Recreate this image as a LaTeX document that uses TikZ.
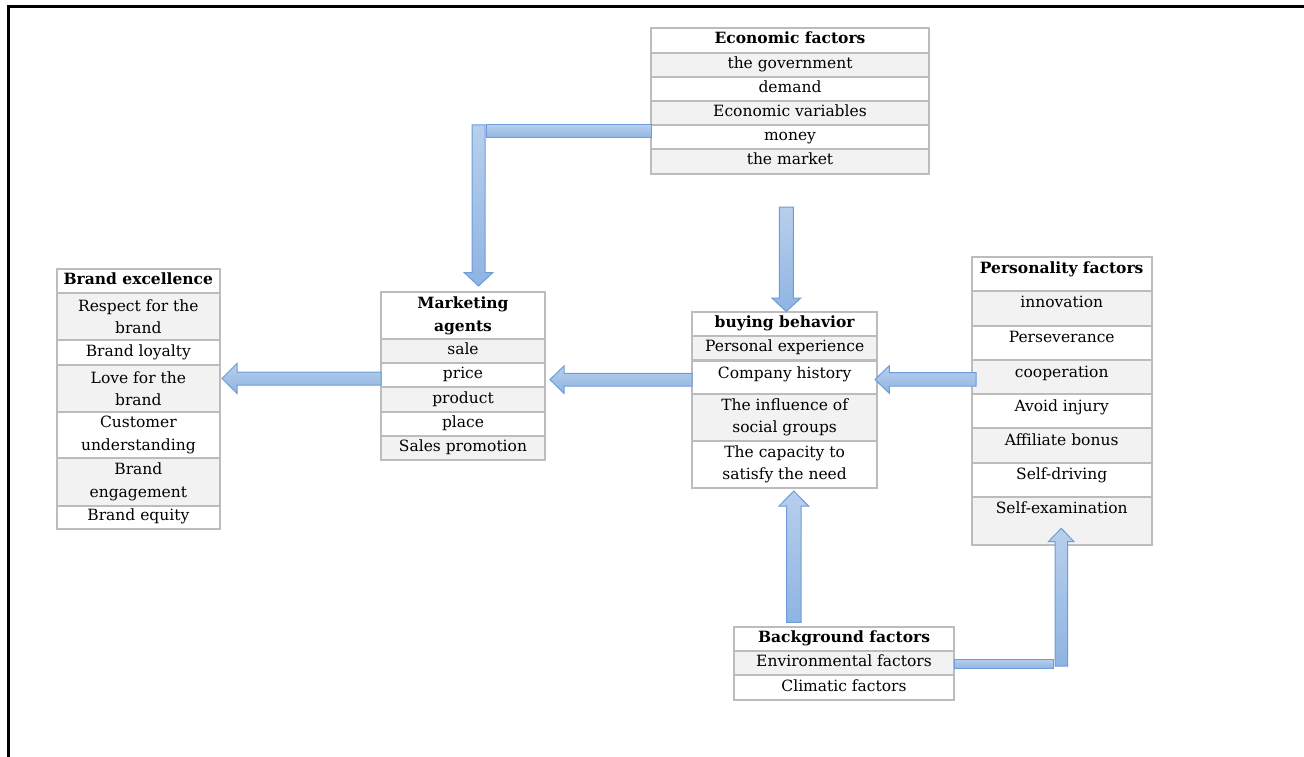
\documentclass[tikz,border=0pt]{standalone}
\usepackage{fontspec}
\setmainfont{DejaVu Serif}
\definecolor{cellgray}{RGB}{242,242,242}
\definecolor{cellline}{RGB}{188,188,188}
\definecolor{arrtop}{RGB}{184,207,237}
\definecolor{arrbot}{RGB}{143,180,226}
\definecolor{arrline}{RGB}{108,157,216}
\tikzset{
 cell/.style={draw=cellline, line width=1.8pt, rectangle, inner sep=0pt, align=center,
   font=\fontsize{15.5pt}{23pt}\selectfont, text height=11pt, text depth=4pt},
 celltwo/.style={draw=cellline, line width=1.8pt, rectangle, inner sep=0pt, align=center,
   font=\fontsize{15.5pt}{22.5pt}\selectfont},
 celltop/.style={cell, anchor=north, text height=17pt},
 cg/.style={fill=cellgray}, cw/.style={fill=white},
 barrow/.style={draw=arrline, line width=1pt, top color=arrtop, bottom color=arrbot, line join=miter},
}
\begin{document}
\begin{tikzpicture}[x=1pt,y=-1pt]
\useasboundingbox (0,0) rectangle (1304,757);
\draw[line width=2.6pt] (8.5,757) -- (8.5,6.5) -- (1305,6.5);

% Economic factors
\begin{scope}[every node/.append style={minimum width=278pt}]
\node[cell,cw,minimum height=24.4pt] (eco0) at (790,40.5) {\bfseries Economic factors};
\node[cell,cg,minimum height=24pt] (eco1) at (790,64.7) {the government};
\node[cell,cw,minimum height=24pt] (eco2) at (790,88.7) {demand};
\node[cell,cg,minimum height=24.3pt] (eco3) at (790,112.85) {Economic variables};
\node[cell,cw,minimum height=23.7pt] (eco4) at (790,136.85) {money};
\node[cell,cg,minimum height=25.3pt] (eco5) at (790,161.35) {the market};
\end{scope}

% Brand excellence
\begin{scope}[every node/.append style={minimum width=163.3pt}]
\node[cell,cw,minimum height=24pt] (br0) at (138.35,281.3) {\bfseries Brand excellence};
\node[celltwo,cg,minimum height=46.7pt] (br1) at (138.35,316.65) {Respect for the\\brand};
\node[cell,cw,minimum height=25.3pt] (br2) at (138.35,352.65) {Brand loyalty};
\node[celltwo,cg,minimum height=46.4pt] (br3) at (138.35,388.5) {Love for the\\brand};
\node[celltwo,cw,minimum height=46.6pt] (br4) at (138.35,435) {Customer\\understanding};
\node[celltwo,cg,minimum height=47.4pt] (br5) at (138.35,482) {Brand\\engagement};
\node[cell,cw,minimum height=23pt] (br6) at (138.35,517.2) {Brand equity};
\end{scope}

% Marketing agents
\begin{scope}[every node/.append style={minimum width=164pt}]
\node[celltwo,cw,minimum height=46.7pt] (mk0) at (463,315.65) {\bfseries Marketing\\\bfseries agents};
\node[cell,cg,minimum height=24.3pt] (mk1) at (463,351.15) {sale};
\node[cell,cw,minimum height=24pt] (mk2) at (463,375.3) {price};
\node[cell,cg,minimum height=24.4pt] (mk3) at (463,399.5) {product};
\node[cell,cw,minimum height=24.3pt] (mk4) at (463,423.85) {place};
\node[cell,cg,minimum height=24pt] (mk5) at (463,448) {Sales promotion};
\end{scope}

% buying behavior
\begin{scope}[every node/.append style={minimum width=185.3pt}]
\node[cell,cw,minimum height=23.7pt] (bh0) at (784.65,324.15) {\bfseries buying behavior};
\node[cell,cg,minimum height=24.3pt] (bh1) at (784.65,348.15) {Personal experience};
\node[celltop,cw,text depth=16.7pt] (bh2) at (784.65,360.3) {Company history};
\node[celltwo,cg,minimum height=46.7pt] (bh3) at (784.65,417.35) {The influence of\\social groups};
\node[celltwo,cw,minimum height=47pt] (bh4) at (784.65,464.2) {The capacity to\\satisfy the need};
\end{scope}

% Personality factors
\begin{scope}[every node/.append style={minimum width=180pt}]
\node[celltop,cw,text depth=17pt] (pf0) at (1061.7,256) {\bfseries Personality factors};
\node[celltop,cg,text depth=18pt] (pf1) at (1061.7,290) {innovation};
\node[celltop,cw,text depth=17.3pt] (pf2) at (1061.7,325) {Perseverance};
\node[celltop,cg,text depth=17pt] (pf3) at (1061.7,359.3) {cooperation};
\node[celltop,cw,text depth=17pt] (pf4) at (1061.7,393.3) {Avoid injury};
\node[celltop,cg,text depth=17.7pt] (pf5) at (1061.7,427.3) {Affiliate bonus};
\node[celltop,cw,text depth=17pt] (pf6) at (1061.7,462) {Self-driving};
\node[celltop,cg,text depth=31pt] (pf7) at (1061.7,496) {Self-examination};
\end{scope}

% Background factors
\begin{scope}[every node/.append style={minimum width=220pt}]
\node[cell,cw,minimum height=24.3pt] (bg0) at (844,638.85) {\bfseries Background factors};
\node[cell,cg,minimum height=24pt] (bg1) at (844,663) {Environmental factors};
\node[cell,cw,minimum height=25pt] (bg2) at (844,687.5) {Climatic factors};
\end{scope}

% Arrows
% Economic -> Marketing (elbow)
\path[barrow] (486,125) rectangle (651,137.7);
\path[barrow] (472,125) -- (485,125) -- (485,272.7) -- (492.7,272.7) -- (478.5,286)
  -- (464.3,272.7) -- (472,272.7) -- cycle;
% into buying behavior from above
\path[barrow] (779.3,207) -- (793.3,207) -- (793.3,298) -- (800.8,298) -- (786.3,311.5)
  -- (771.8,298) -- (779.3,298) -- cycle;
% Marketing -> Brand
\path[barrow] (381,372) -- (237,372) -- (237,363.5) -- (222,378.5) -- (237,393.5)
  -- (237,385) -- (381,385) -- cycle;
% buying -> Marketing
\path[barrow] (692,373.3) -- (564,373.3) -- (564,366) -- (550,379.6) -- (564,393.3)
  -- (564,386) -- (692,386) -- cycle;
% Personality -> buying
\path[barrow] (976,372.7) -- (889.3,372.7) -- (889.3,365.7) -- (875,379.5) -- (889.3,393.3)
  -- (889.3,386) -- (976,386) -- cycle;
% Background -> buying
\path[barrow] (786.7,622.3) -- (786.7,506) -- (779,506) -- (793.8,491) -- (808.6,506)
  -- (801,506) -- (801,622.3) -- cycle;
% Background -> Personality (elbow)
\path[barrow] (954,659.3) rectangle (1053.3,668.7);
\path[barrow] (1055,666) -- (1055,541.7) -- (1048.3,541.7) -- (1061.3,528.3) -- (1074,541.7)
  -- (1067.7,541.7) -- (1067.7,666) -- cycle;
\end{tikzpicture}
\end{document}
